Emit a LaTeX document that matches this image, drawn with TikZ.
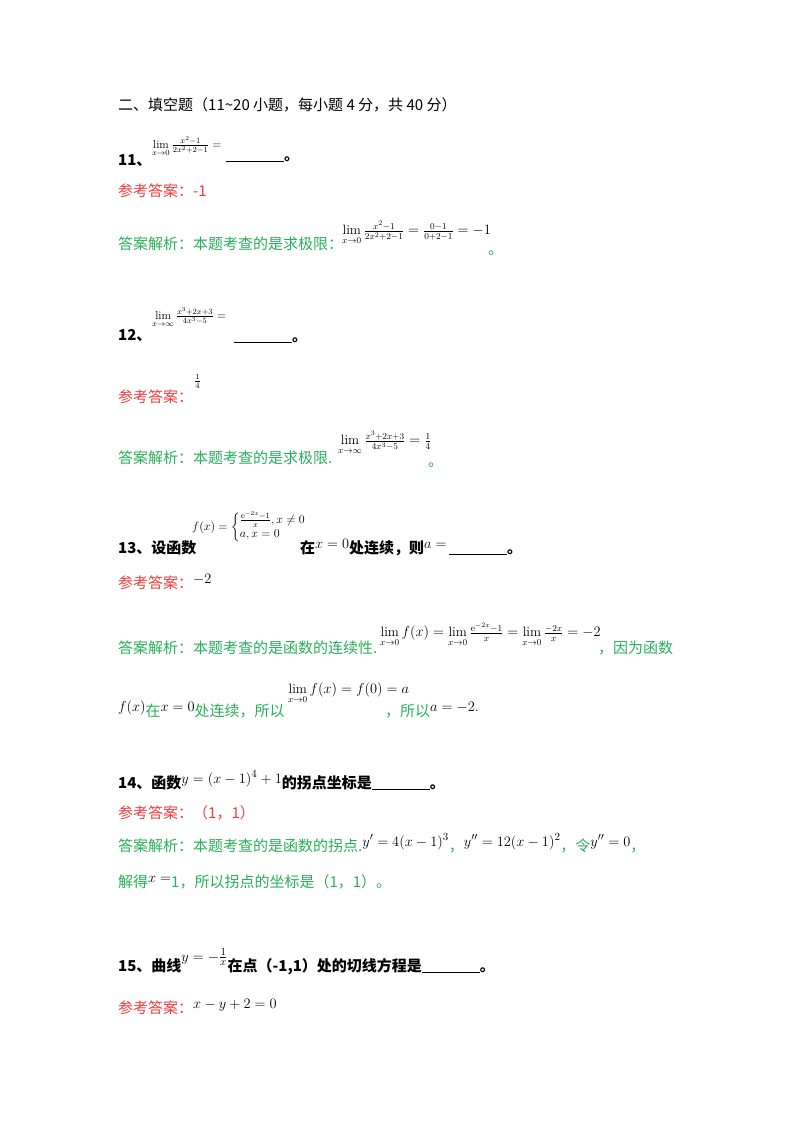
\documentclass[tikz,border=0pt]{standalone}
\usepackage{amsmath}
\usepackage{fontspec}
\newfontfamily\cjk{Noto Sans CJK SC}
\definecolor{ansred}{RGB}{240,60,60}
\definecolor{ansgreen}{RGB}{40,175,90}
\newcommand{\rz}[1]{\raisebox{5pt}{\textcolor{black}{#1}}}
\newcommand{\blankline}{\rule[-2pt]{58pt}{0.8pt}}
\begin{document}
\begin{tikzpicture}[x=1pt,y=-1pt,
  t/.style={anchor=base west,inner sep=0pt,font=\cjk\fontsize{15}{17}\selectfont},
  q/.style={t,font=\cjk\bfseries\fontsize{15}{17}\selectfont},
  r/.style={t,text=ansred},
  g/.style={t,text=ansgreen},
  m/.style={anchor=west,inner sep=0pt,font=\fontsize{11.5}{12}\selectfont}]
\useasboundingbox (0,0) rectangle (800,1132);
\node[t] (h) at (118,110) {二、填空题（11\textasciitilde20 小题，每小题 4 分，共 40 分）};
% 11
\node[q] (q11) at (118,165) {11、};
\node[m] (f11) at (152,147) {$\lim\limits_{x\to0}\frac{x^2-1}{2x^2+2-1}=$};
\node[q] (b11) at (226,160) {\blankline。};
\node[r] (a11) at (118,196) {参考答案：-1};
\node[g] (e11) at (118,249) {答案解析：本题考查的是求极限：};
\node[m] (f11b) at (342,233) {\fontsize{13.5}{14}\selectfont$\lim\limits_{x\to0}\frac{x^2-1}{2x^2+2-1}=\frac{0-1}{0+2-1}=-1$};
\node[g] (d11b) at (488,254) {。};
% 12
\node[m] (f12) at (152,318) {$\lim\limits_{x\to\infty}\frac{x^3+2x+3}{4x^3-5}=$};
\node[q] (q12) at (118,340) {12、};
\node[q] (b12) at (234,341) {\blankline。};
\node[r] (a12) at (118,402) {参考答案：};
\node[m] (f12a) at (194,381) {$\frac{1}{4}$};
\node[g] (e12) at (118,463) {答案解析：本题考查的是求极限.};
\node[m] (f12b) at (338,443) {\fontsize{13.5}{14}\selectfont$\lim\limits_{x\to\infty}\frac{x^3+2x+3}{4x^3-5}=\frac{1}{4}$};
\node[g] (d12b) at (428,466) {。};
% 13
\node[m] (f13) at (192,527) {$f(x)=\begin{cases}\frac{\mathrm{e}^{-2x}-1}{x},x\neq0\\ a,x=0\end{cases}$};
\node[q] (q13) at (118,553) {13、设函数};
\node[q] (q13b) at (300,553) {在\rz{\mdseries$x=0$}处连续，则\rz{\mdseries$a=$}\,\blankline。};
\node[r] (a13r) at (118,588) {参考答案：\rz{$-2$}};
\node[g] (e13) at (118,653) {答案解析：本题考查的是函数的连续性.};
\node[m] (f13b) at (380,635) {\fontsize{13.5}{14}\selectfont$\lim\limits_{x\to0}f(x)=\lim\limits_{x\to0}\frac{\mathrm{e}^{-2x}-1}{x}=\lim\limits_{x\to0}\frac{-2x}{x}=-2$};
\node[g] (e13b) at (598,653) {，因为函数};
\node[g] (e13c) at (118,716) {\rz{$f(x)$}在\rz{$x=0$}处连续，所以};
\node[m] (f13c) at (288,693) {\fontsize{13.5}{14}\selectfont$\lim\limits_{x\to0}f(x)=f(0)=a$};
\node[g] (e13d) at (385,716) {，所以\rz{$a=-2.$}};
% 14
\node[q] (q14) at (118,788) {14、函数\rz{\mdseries$y=(x-1)^4+1$}的拐点坐标是\blankline。};
\node[r] (a14) at (118,818) {参考答案：（1，1）};
\node[g] (e14) at (118,851) {答案解析：本题考查的是函数的拐点.\rz{$y'=4(x-1)^3$}，\rz{$y''=12(x-1)^2$}，令\rz{$y''=0$}，};
\node[g] (e14b) at (118,887) {解得\rz{$x=$}1，所以拐点的坐标是（1，1）。};
% 15
\node[q] (q15) at (118,971) {15、曲线\raisebox{10pt}{\mdseries$y=-\frac{1}{x}$}在点（-1,1）处的切线方程是\blankline。};
\node[r] (a15) at (118,1013) {参考答案：\rz{$x-y+2=0$}};
\end{tikzpicture}
\end{document}
